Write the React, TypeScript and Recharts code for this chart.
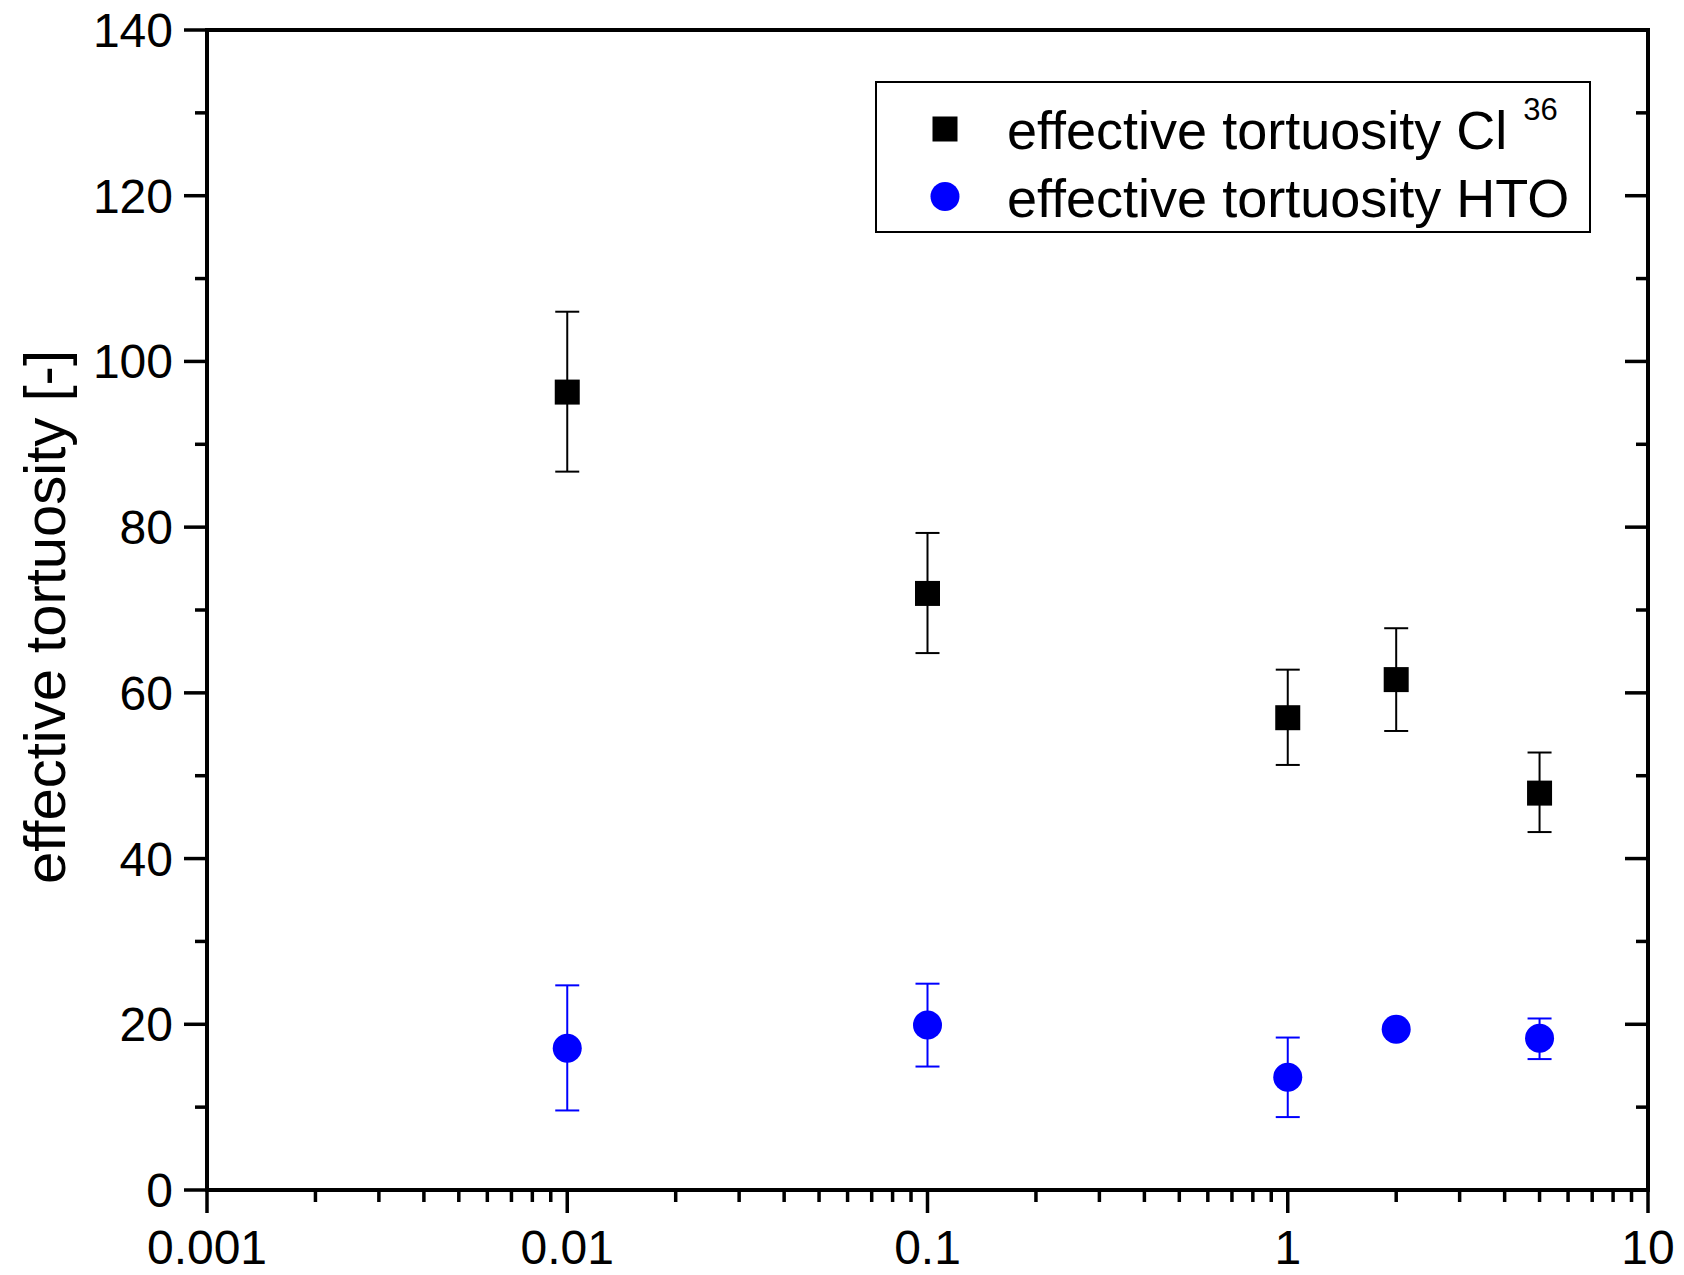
import { ErrorBar, Legend, Scatter, ScatterChart, XAxis, YAxis } from 'recharts';

// Effective tortuosity vs. x (log axis), Cl-36 and HTO with error bars.

const FONT = "'Liberation Sans', Arial, Helvetica, sans-serif";

// ---------------------------------------------------------------------------
// Data
// ---------------------------------------------------------------------------

const xValues = [0.01, 0.1, 1, 2, 5];

const clTortuosity = [96.3, 72.0, 57.0, 61.6, 47.9];
const clUpper = [106.0, 79.3, 62.8, 67.8, 52.8];
const clLower = [86.7, 64.8, 51.3, 55.4, 43.2];

const htoTortuosity = [17.1, 19.9, 13.6, 19.4, 18.3];
const htoUpper = [24.7, 24.9, 18.4, 19.4, 20.7];
const htoLower = [9.6, 14.9, 8.8, 19.4, 15.8];

const xMajorTicks = [0.001, 0.01, 0.1, 1, 10];
const xMinorSteps = [2, 3, 4, 5, 6, 7, 8, 9];
const yMajorTicks = [0, 20, 40, 60, 80, 100, 120, 140];
const yMinorTicks = [10, 30, 50, 70, 90, 110, 130];

const legendLabels = ['effective tortuosity Cl', 'effective tortuosity HTO'];
const legendSup = '36';

// ---------------------------------------------------------------------------
// Derived
// ---------------------------------------------------------------------------

const xMinorTicks = xMajorTicks
  .slice(0, -1)
  .flatMap((d) => xMinorSteps.map((m) => Number((d * m).toPrecision(3))));
const xTicks = [...xMajorTicks, ...xMinorTicks];
const yTicks = [...yMajorTicks, ...yMinorTicks];

const clData = xValues.map((x, i) => ({
  x,
  y: clTortuosity[i],
  err: [clTortuosity[i] - clLower[i], clUpper[i] - clTortuosity[i]],
}));

const htoData = xValues.map((x, i) => ({
  x,
  y: htoTortuosity[i],
  err: [htoTortuosity[i] - htoLower[i], htoUpper[i] - htoTortuosity[i]],
}));

const isMajorX = (v: number) => xMajorTicks.some((t) => Math.abs(t - v) < t * 1e-6);
const isMajorY = (v: number) => yMajorTicks.includes(v);

const MAJOR = 23;
const MINOR = 12;
const TICK_W = 3.5;
const TICK_FONT = 48;

// ---------------------------------------------------------------------------
// Ticks
// ---------------------------------------------------------------------------

function BottomTick(props: any) {
  const { x, y, payload } = props;
  const major = isMajorX(payload.value);
  return (
    <g>
      <line x1={x} y1={y} x2={x} y2={y + (major ? MAJOR : MINOR)} stroke="#000" strokeWidth={TICK_W} />
      {major && (
        <text x={x} y={y + 74} textAnchor="middle" fontSize={TICK_FONT} fontFamily={FONT} fill="#000">
          {String(payload.value)}
        </text>
      )}
    </g>
  );
}

function TopTick(props: any) {
  const { x, y, payload } = props;
  const major = isMajorX(payload.value);
  return <line x1={x} y1={y} x2={x} y2={y + (major ? MAJOR : MINOR)} stroke="#000" strokeWidth={TICK_W} />;
}

function LeftTick(props: any) {
  const { x, y, payload } = props;
  const major = isMajorY(payload.value);
  return (
    <g>
      <line x1={x} y1={y} x2={x - (major ? MAJOR : MINOR)} y2={y} stroke="#000" strokeWidth={TICK_W} />
      {major && (
        <text x={x - 34} y={y + 17} textAnchor="end" fontSize={TICK_FONT} fontFamily={FONT} fill="#000">
          {payload.value}
        </text>
      )}
    </g>
  );
}

function RightTick(props: any) {
  const { x, y, payload } = props;
  const major = isMajorY(payload.value);
  return <line x1={x} y1={y} x2={x - (major ? MAJOR : MINOR)} y2={y} stroke="#000" strokeWidth={TICK_W} />;
}

// ---------------------------------------------------------------------------
// Markers + legend
// ---------------------------------------------------------------------------

const SquareShape = (p: any) => (
  <rect x={p.cx - 12.5} y={p.cy - 12.5} width={25} height={25} fill="#000" />
);

const CircleShape = (p: any) => <circle cx={p.cx} cy={p.cy} r={14.5} fill="#0000ff" />;

function LegendBox() {
  return (
    <svg width={716} height={152} style={{ display: 'block' }}>
      <rect x={1} y={1} width={714} height={150} fill="#fff" stroke="#000" strokeWidth={2} />
      <rect x={57.5} y={35.5} width={25} height={25} fill="#000" />
      <text x={132} y={68} fontSize={54} fontFamily={FONT} fill="#000">
        {legendLabels[0]}
        <tspan dx={16} dy={-29} fontSize={31}>
          {legendSup}
        </tspan>
      </text>
      <circle cx={70} cy={115.5} r={14.5} fill="#0000ff" />
      <text x={132} y={136} fontSize={54} fontFamily={FONT} fill="#000">
        {legendLabels[1]}
      </text>
    </svg>
  );
}

const axisLine = { stroke: '#000', strokeWidth: 4, strokeLinecap: 'square' as const };

// ---------------------------------------------------------------------------
// App
// ---------------------------------------------------------------------------

export default function App() {
  return (
    <div style={{ position: 'absolute', left: 0, top: 0, width: 1684, height: 1275, background: '#fff' }}>
      <ScatterChart width={1684} height={1275} margin={{ top: 0, right: 0, bottom: 0, left: 0 }}>
        <XAxis
          xAxisId="bottom"
          dataKey="x"
          type="number"
          scale="log"
          domain={[0.001, 10]}
          allowDataOverflow
          ticks={xTicks}
          interval={0}
          height={85}
          tickSize={0}
          tickMargin={0}
          tickLine={false}
          axisLine={axisLine}
          tick={<BottomTick />}
        />
        <XAxis
          xAxisId="top"
          orientation="top"
          type="number"
          scale="log"
          domain={[0.001, 10]}
          allowDataOverflow
          ticks={xTicks}
          interval={0}
          height={30}
          tickSize={0}
          tickMargin={0}
          tickLine={false}
          axisLine={axisLine}
          tick={<TopTick />}
        />
        <YAxis
          yAxisId="left"
          dataKey="y"
          type="number"
          domain={[0, 140]}
          allowDataOverflow
          ticks={yTicks}
          interval={0}
          width={207}
          tickSize={0}
          tickMargin={0}
          tickLine={false}
          axisLine={axisLine}
          tick={<LeftTick />}
          label={() => (
            <text
              transform="translate(65,617) rotate(-90)"
              textAnchor="middle"
              fontSize={58}
              fontFamily={FONT}
              fill="#000"
            >
              effective tortuosity [-]
            </text>
          )}
        />
        <YAxis
          yAxisId="right"
          orientation="right"
          type="number"
          domain={[0, 140]}
          allowDataOverflow
          ticks={yTicks}
          interval={0}
          width={36}
          tickSize={0}
          tickMargin={0}
          tickLine={false}
          axisLine={axisLine}
          tick={<RightTick />}
        />
        <Legend
          layout="vertical"
          align="center"
          verticalAlign="middle"
          content={() => <LegendBox />}
          wrapperStyle={{ left: 875, top: 81, width: 716, height: 152 }}
        />
        <Scatter
          name="Cl36"
          data={clData}
          xAxisId="bottom"
          yAxisId="left"
          shape={SquareShape}
          isAnimationActive={false}
        >
          <ErrorBar dataKey="err" direction="y" width={12} stroke="#000" strokeWidth={2} isAnimationActive={false} />
        </Scatter>
        <Scatter
          name="HTO"
          data={htoData}
          xAxisId="bottom"
          yAxisId="left"
          shape={CircleShape}
          isAnimationActive={false}
        >
          <ErrorBar dataKey="err" direction="y" width={12} stroke="#0000ff" strokeWidth={2} isAnimationActive={false} />
        </Scatter>
      </ScatterChart>
    </div>
  );
}
